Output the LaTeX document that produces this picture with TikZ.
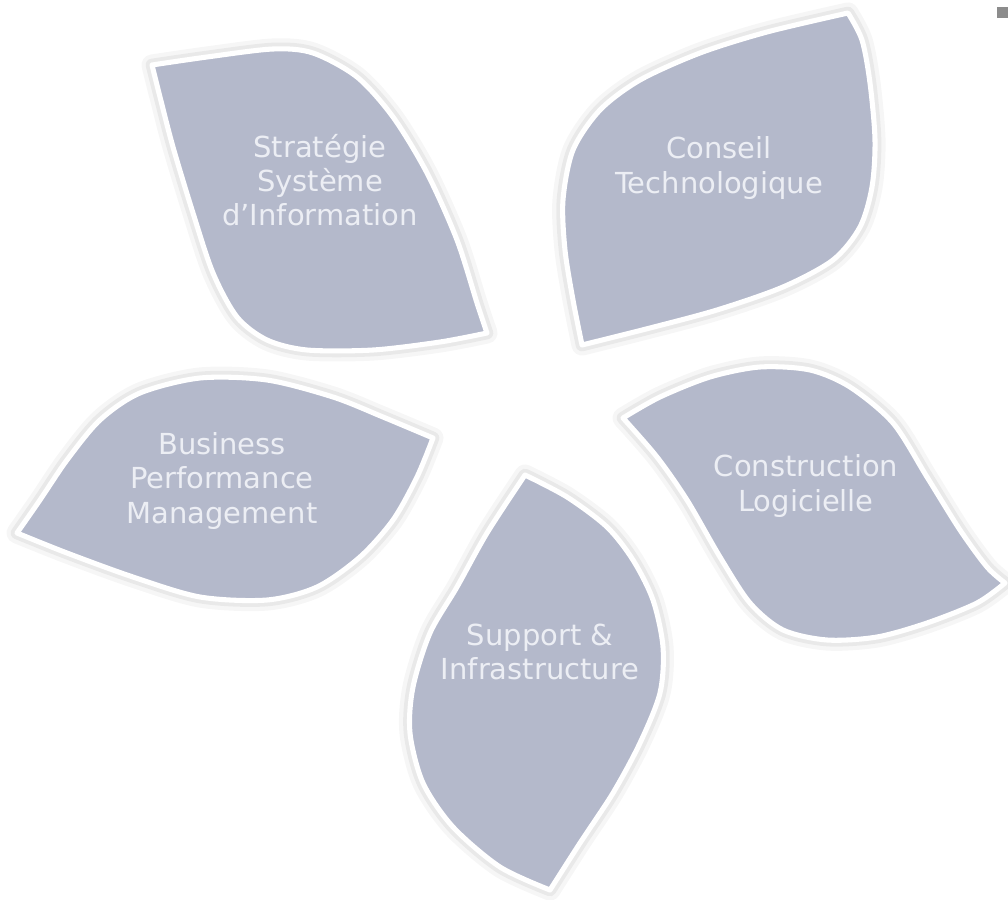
\documentclass[tikz,border=0pt]{standalone}
\usepackage{fontspec}
\setmainfont{DejaVu Sans}
\definecolor{leafgray}{RGB}{180,185,203}
\definecolor{leafink}{RGB}{236,238,244}
\begin{document}
\begin{tikzpicture}[x=0.025cm, y=-0.025cm,
  leaf/.style={fill=leafgray, draw=white, line width=3.6pt, line join=round,
    preaction={draw=black, opacity=0.035, line width=15pt, line join=round},
    preaction={draw=black, opacity=0.05, line width=9pt, line join=round}},
  leaftext/.style={text=leafink, align=center, font=\fontsize{20.6}{24.2}\selectfont}]
\useasboundingbox (0,0) rectangle (1008,900);
% Strategie
\path[leaf] plot[smooth] coordinates {(152,65) (207,57) (273,49) (313,53) (357,77) (393,117) (427,173) (457,240) (477,303) (487,333)}
  -- plot[smooth] coordinates {(487,333) (440,342) (373,350) (307,350) (267,340) (237,317) (213,273) (193,213) (173,147) (160,97) (152,65)} -- cycle;
% Conseil
\path[leaf] plot[smooth] coordinates {(848,13) (862,40) (870,83) (875,140) (872,187) (860,227) (833,260) (783,287) (717,310) (650,328) (582,345)}
  -- plot[smooth] coordinates {(582,345) (573,300) (565,250) (563,200) (573,150) (600,110) (640,80) (700,53) (767,32) (848,13)} -- cycle;
% Business
\path[leaf] plot[smooth] coordinates {(17,533) (40,500) (67,460) (100,420) (140,393) (200,378) (267,380) (333,397) (383,417) (433,438)}
  -- plot[smooth] coordinates {(433,438) (417,477) (393,520) (360,557) (317,587) (267,600) (200,597) (133,577) (67,553) (17,533)} -- cycle;
% Construction
\path[leaf] plot[smooth] coordinates {(623,418) (660,397) (710,377) (760,367) (810,370) (850,387) (893,423) (927,477) (960,530) (987,567) (1005,583)}
  -- plot[smooth] coordinates {(1005,583) (977,603) (927,623) (877,637) (827,640) (783,630) (750,603) (720,557) (687,500) (657,457) (623,418)} -- cycle;
% Support
\path[leaf] plot[smooth] coordinates {(525,475) (567,497) (607,527) (633,560) (653,600) (663,647) (660,693) (640,743) (613,793) (580,843) (550,890)}
  -- plot[smooth] coordinates {(550,890) (500,867) (453,827) (423,783) (410,733) (413,687) (430,633) (457,587) (487,533) (525,475)} -- cycle;
\node[leaftext] (strategie) at (320,180) {Stratégie\\Système\\d’Information};
\node[leaftext] (conseil) at (719,168) {Conseil\\Technologique};
\node[leaftext] (business) at (222,481) {Business\\Performance\\Management};
\node[leaftext] (construction) at (806,486) {Construction\\Logicielle};
\node[leaftext] (support) at (540,652) {Support \&\\Infrastructure};
\fill[black!45] (997,7) rectangle (1008,18);
\end{tikzpicture}
\end{document}
